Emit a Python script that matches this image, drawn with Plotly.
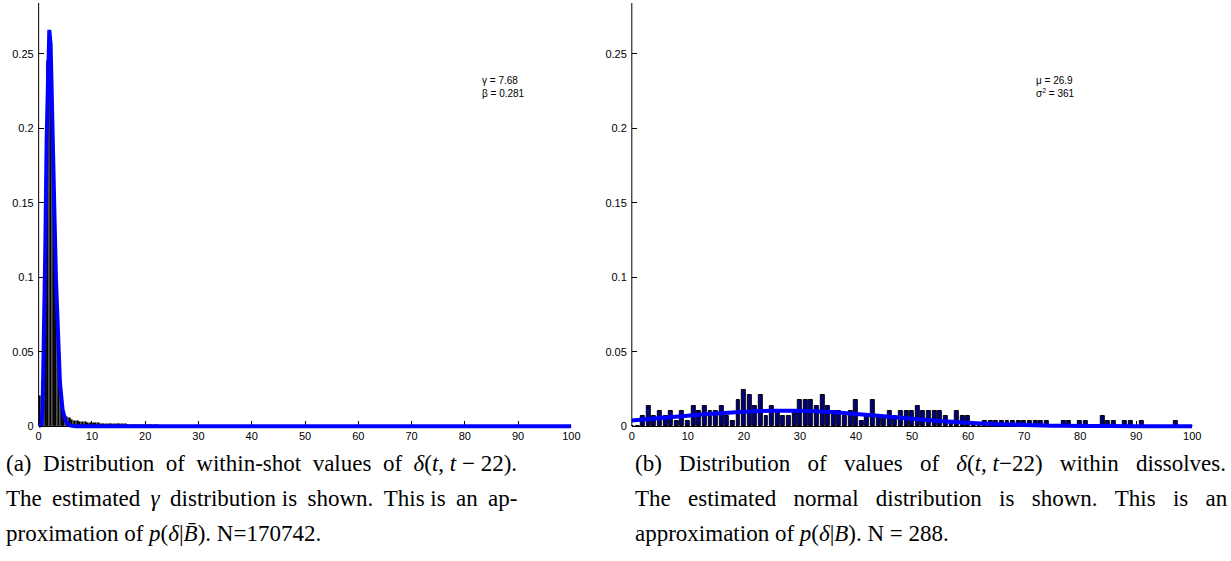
import plotly.graph_objects as go

# ---------------- data ----------------
# Left panel: within-shot histogram (bin width 0.5, centres) and fitted gamma curve
left_bin_centres = [0.25 + 0.5 * i for i in range(60)]
left_hist = [0.020, 0.030, 0.120, 0.245, 0.250, 0.180, 0.100, 0.045, 0.020, 0.009,
             0.0065, 0.0052, 0.0040, 0.0036, 0.0032, 0.0030, 0.0028, 0.0026, 0.0024, 0.0022,
             0.0021, 0.0020, 0.0019, 0.0018, 0.0018, 0.0017, 0.0016, 0.0015, 0.0014, 0.0013,
             0.0013, 0.0012, 0.0012, 0.0011, 0.0010, 0.0010, 0.0009, 0.0009, 0.0008, 0.0008,
             0.0007, 0.0007, 0.0006, 0.0006, 0.0006, 0.0005, 0.0005, 0.0005, 0.0004, 0.0004,
             0.0004, 0.0003, 0.0003, 0.0003, 0.0003, 0.0002, 0.0002, 0.0002, 0.0002, 0.0002]
left_curve_x = [0, 0.5, 0.75, 1.0, 1.25, 1.5, 1.75, 2.0, 2.25, 2.5, 2.75, 3.0, 3.25,
                3.5, 3.75, 4.0, 4.5, 5.0, 5.5, 6, 7, 8, 10, 20, 40, 60, 80, 100]
left_curve_y = [0, 0.001, 0.012, 0.052, 0.120, 0.193, 0.247, 0.266, 0.256, 0.224, 0.180,
                0.137, 0.099, 0.068, 0.045, 0.029, 0.011, 0.004, 0.0013, 0.0004, 0.00003,
                0, 0, 0, 0, 0, 0, 0]

# Right panel: dissolve histogram (bin width 1, counts, N = 288) and fitted normal curve
right_bins = list(range(0, 101))
right_counts = [0, 0, 2, 4, 2, 3, 2, 3, 1, 3,
                1, 4, 3, 4, 3, 3, 4, 2, 1, 5,
                7, 6, 4, 6, 2, 4, 3, 2, 2, 3,
                5, 5, 5, 4, 6, 4, 3, 3, 2, 3,
                5, 1, 2, 5, 2, 2, 3, 2, 3, 3,
                3, 4, 3, 3, 3, 3, 2, 1, 3, 2,
                2, 0, 0, 1, 1, 1, 1, 1, 1, 1,
                1, 1, 1, 1, 1, 0, 0, 1, 1, 0,
                1, 1, 0, 0, 2, 1, 1, 0, 1, 1,
                0, 1, 0, 0, 0, 0, 0, 1, 0, 0,
                0]
right_N = 288
right_curve_x = [0, 5, 10, 15, 20, 25, 30, 35, 40, 45, 50, 55, 60, 65, 70, 75, 80, 85, 90, 95, 100]
right_curve_y = [0.0039, 0.0055, 0.0071, 0.0086, 0.0098, 0.0104, 0.0104, 0.0097, 0.0082,
                 0.0067, 0.0050, 0.0035, 0.0023, 0.0014, 0.0008, 0.0004, 0.0002, 0.0001,
                 0.00004, 0.00001, 0.0]

x_ticks = [0, 10, 20, 30, 40, 50, 60, 70, 80, 90, 100]
y_ticks = [0, 0.05, 0.1, 0.15, 0.2, 0.25]
y_tick_text = ["0", "0.05", "0.1", "0.15", "0.2", "0.25"]

left_params = "γ = 7.68<br>β = 0.281"
right_params = "μ = 26.9<br>σ<sup>2</sup> = 361"

S1 = "\u00a0"          # one extra (justification) space
S2 = "\u00a0\u00a0"    # two extra spaces
TS = "\u2009"          # thin extra space
caption_a = [
    f"(a) {S1}Distribution {S1}of {S1}within-shot {S1}values {S1}of {S1}<i>δ</i>(<i>t</i>, <i>t</i> − 22).",
    f"The {TS}estimated {TS}<i>γ</i> {TS}distribution is {TS}shown. {TS}This is {TS}an {TS}ap-",
    "proximation of <i>p</i>(<i>δ</i>|<i>B\u0304</i>). N=170742.",
]
caption_b = [
    f"(b) {S2}Distribution {S2}of {S2}values {S2}of {S2}<i>δ</i>(<i>t</i>, <i>t</i>−22) {S2}within {S2}dissolves.",
    f"The {S2}estimated {S2}normal {S2}distribution {S2}is {S2}shown. {S2}This {S2}is {S2}an",
    "approximation of <i>p</i>(<i>δ</i>|<i>B</i>). N = 288.",
]

# ---------------- layout helpers ----------------
W, H = 1231, 561
def px_x(p):
    return p / W
def px_y(p):
    return (H - p) / H

Y_TOP = 0.284
Y_BOT = -0.003
y0_px, ytop_px = 427, 3
scale = (y0_px - ytop_px) / Y_TOP
ybot_px = y0_px + (-Y_BOT) * scale

L_dom = [px_x(36), px_x(574)]
R_dom = [px_x(635), px_x(1201)]
Y_dom = [px_y(ybot_px), px_y(ytop_px)]

fig = go.Figure()

fig.add_trace(go.Bar(x=left_bin_centres, y=left_hist, width=0.4,
                     marker=dict(color="black", line=dict(color="black", width=0.5)),
                     xaxis="x", yaxis="y", showlegend=False))
fig.add_trace(go.Scatter(x=left_curve_x, y=left_curve_y, mode="lines",
                         line=dict(color="#0000ff", width=4),
                         xaxis="x", yaxis="y", showlegend=False))

fig.add_trace(go.Bar(x=right_bins, y=[c / right_N for c in right_counts], width=0.7,
                     marker=dict(color="#000080", line=dict(color="black", width=1)),
                     xaxis="x2", yaxis="y2", showlegend=False))
fig.add_trace(go.Scatter(x=right_curve_x, y=right_curve_y, mode="lines",
                         line=dict(color="#0000ff", width=4, shape="spline"),
                         xaxis="x2", yaxis="y2", showlegend=False))

tick_font = dict(family="Liberation Sans, Arial, sans-serif", size=11, color="black")

def xax(dom):
    return dict(domain=dom, range=[0, 100], tickvals=x_ticks, ticks="inside", ticklen=5,
                tickcolor="black", showline=True, linecolor="black", linewidth=1,
                showgrid=False, zeroline=False, tickfont=tick_font,
                anchor="free", position=px_y(y0_px), layer="below traces", fixedrange=True)

def yax():
    return dict(domain=Y_dom, range=[Y_BOT, Y_TOP], tickvals=y_ticks, ticktext=y_tick_text,
                ticks="inside", ticklen=5, tickcolor="black", showline=False,
                showgrid=False, zeroline=False, tickfont=tick_font, fixedrange=True,
                ticklabelstandoff=4)

ax_y1 = yax(); ax_y1["anchor"] = "x"
ax_y2 = yax(); ax_y2["anchor"] = "x2"

fig.update_layout(
    width=W, height=H, margin=dict(l=0, r=0, t=0, b=0),
    paper_bgcolor="white", plot_bgcolor="white",
    xaxis=xax(L_dom), yaxis=ax_y1,
    xaxis2=xax(R_dom), yaxis2=ax_y2,
    bargap=0,
)

# y axis lines from 0 upward
for dom, yref in [(L_dom, "y"), (R_dom, "y2")]:
    fig.add_shape(type="line", xref="paper", yref=yref, x0=dom[0], x1=dom[0], y0=0, y1=Y_TOP,
                  line=dict(color="black", width=1), layer="below")

ann_font = dict(family="Liberation Sans, Arial, sans-serif", size=10, color="black")
fig.add_annotation(xref="paper", yref="paper", x=px_x(482), y=px_y(73), text=left_params,
                   showarrow=False, xanchor="left", yanchor="top", align="left", font=ann_font)
fig.add_annotation(xref="paper", yref="paper", x=px_x(1041), y=px_y(73), text=right_params,
                   showarrow=False, xanchor="left", yanchor="top", align="left", font=ann_font)

cap_font = dict(family="Liberation Serif, Times New Roman, serif", size=23, color="black")
line_y = [464, 499, 534]
for txt, yy in zip(caption_a, line_y):
    fig.add_annotation(xref="paper", yref="paper", x=px_x(1), y=px_y(yy), text=txt,
                       showarrow=False, xanchor="left", yanchor="middle", font=cap_font)
for txt, yy in zip(caption_b, line_y):
    fig.add_annotation(xref="paper", yref="paper", x=px_x(636), y=px_y(yy), text=txt,
                       showarrow=False, xanchor="left", yanchor="middle", font=cap_font)

fig.write_html("out.html")
